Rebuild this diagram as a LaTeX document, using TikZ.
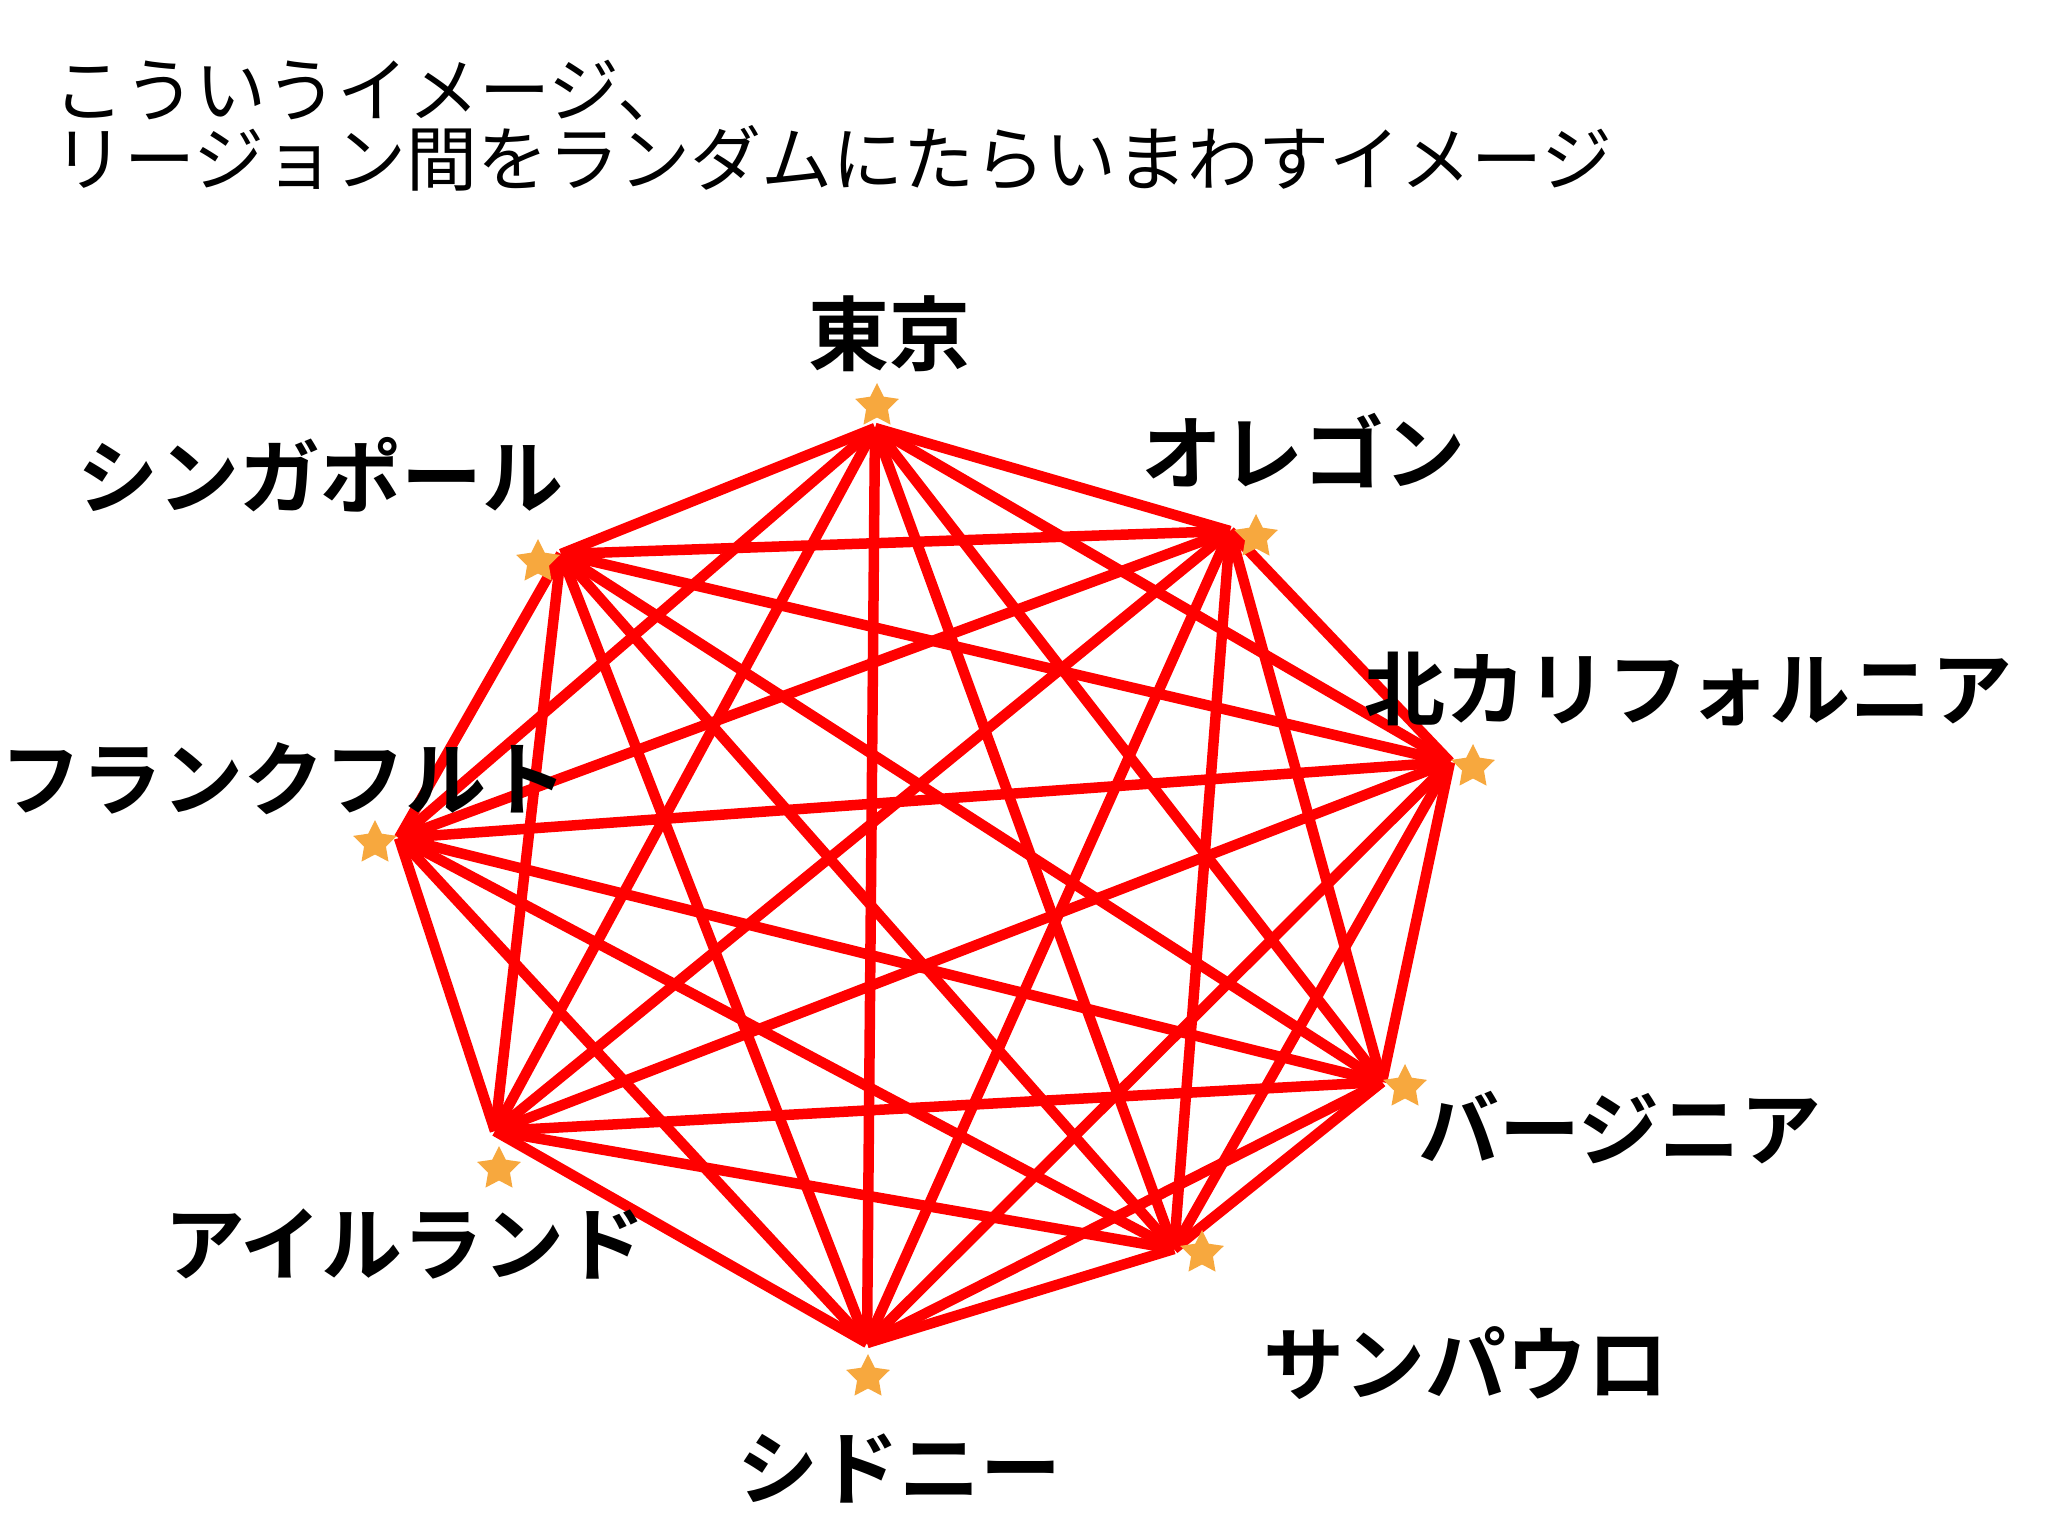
\documentclass[tikz,border=0pt]{standalone}
\usepackage{fontspec}
\usetikzlibrary{shapes.geometric}
\newfontfamily\jpfont{Noto Sans CJK JP}[BoldFont={Noto Sans CJK JP Bold}]
\definecolor{edgered}{RGB}{255,0,0}
\definecolor{starorange}{RGB}{247,168,62}
\tikzset{
  edge/.style={draw=edgered, line width=10.5pt, line cap=butt},
  starmark/.style={star, star points=5, star point ratio=2.0, fill=starorange, draw=none, minimum size=46pt, inner sep=0pt},
  region/.style={font=\jpfont\bfseries\fontsize{81}{85}\selectfont, inner sep=0pt},
  title/.style={font=\jpfont\fontsize{71}{75}\selectfont, inner sep=0pt, anchor=west}
}
\begin{document}
\begin{tikzpicture}[x=1pt,y=-1pt]
\useasboundingbox (0,0) rectangle (2048,1536);
\fill[white] (0,0) rectangle (2048,1536);
% vertices
\coordinate (v1) at (875,428);   % Tokyo
\coordinate (v2) at (1230,531);  % Oregon
\coordinate (v3) at (1450,762);  % N. California
\coordinate (v4) at (1382,1082); % Virginia
\coordinate (v5) at (1174,1249); % Sao Paulo
\coordinate (v6) at (867,1343);  % Sydney
\coordinate (v7) at (495,1131);  % Ireland
\coordinate (v8) at (399,838);   % Frankfurt
\coordinate (v9) at (561,554);   % Singapore
% edges: complete graph
\foreach \i in {1,...,8}{
  \pgfmathtruncatemacro{\s}{\i+1}
  \foreach \j in {\s,...,9}{
    \draw[edge] (v\i) -- (v\j);
  }
}
% stars
\node[starmark] (s1) at (877,406) {};
\node[starmark] (s2) at (1256,537) {};
\node[starmark] (s3) at (1473,767) {};
\node[starmark] (s4) at (1405,1087) {};
\node[starmark] (s5) at (1202,1253) {};
\node[starmark] (s6) at (868,1377) {};
\node[starmark] (s7) at (499,1169) {};
\node[starmark] (s8) at (375,843) {};
\node[starmark] (s9) at (538,562) {};
% labels
\node[region] (l1) at (889,334) {東京};
\node[region] (l2) at (1303,451) {オレゴン};
\node[region] (l3) at (1688,689) {北カリフォルニア};
\node[region] (l4) at (1620,1128) {バージニア};
\node[region] (l5) at (1466,1363) {サンパウロ};
\node[region] (l6) at (899,1468) {シドニー};
\node[region] (l7) at (405,1244) {アイルランド};
\node[region] (l8) at (284,779) {フランクフルト};
\node[region] (l9) at (320,475) {シンガポール};
% title
\node[title] (t1) at (53,90) {こういうイメージ、};
\node[title] (t2) at (53,158) {リージョン間をランダムにたらいまわすイメージ};
\end{tikzpicture}
\end{document}
